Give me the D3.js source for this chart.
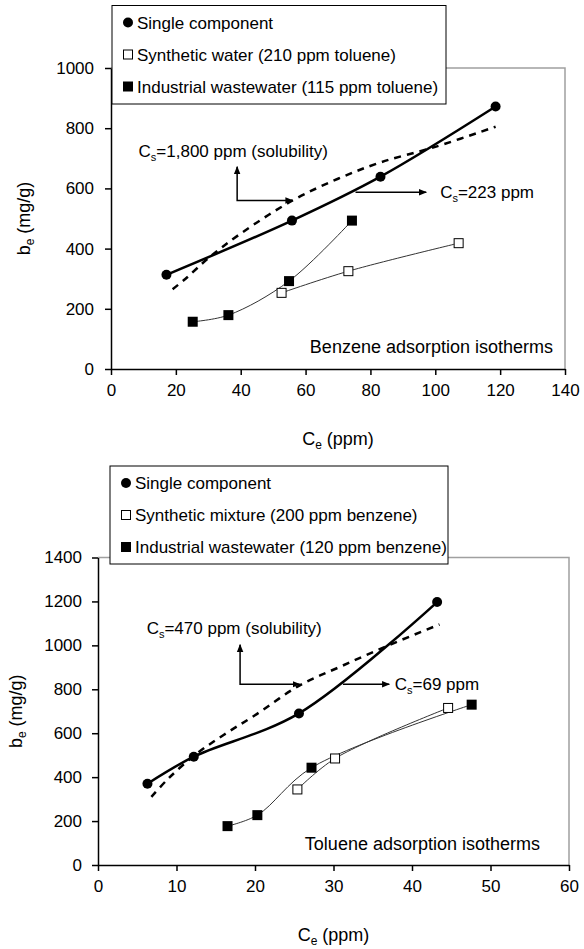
<!DOCTYPE html>
<html>
<head>
<meta charset="utf-8">
<script src="https://cdn.jsdelivr.net/npm/d3@7"></script>
<style>
  body { margin: 0; background: #fff; }
  text { font-family: "Liberation Sans", Arial, sans-serif; fill: #000; }
</style>
</head>
<body>
<script>
// ---- Benzene isotherms (top panel) ----
var benzSingle = [[17.1, 313], [55.8, 493], [83.1, 639], [118.6, 872]];
var benzSingleFit = [[19, 265], [23, 300], [30, 368], [40, 450], [56, 560], [70, 632], [83, 686], [100, 738], [118.6, 805]];
var benzSynthetic = [[52.6, 253], [73.2, 325], [107.2, 418]];
var benzIndustrial = [[25.2, 157], [36.2, 179], [54.9, 292], [74.3, 493]];
var benzXTicks = [0, 20, 40, 60, 80, 100, 120, 140];
var benzYTicks = [0, 200, 400, 600, 800, 1000];
var benzLegend = ["Single component", "Synthetic water (210 ppm toluene)", "Industrial wastewater (115 ppm toluene)"];

// ---- Toluene isotherms (bottom panel) ----
var tolSingle = [[6.3, 370], [12.2, 493], [25.6, 690], [43.2, 1197]];
var tolSingleFit = [[6.8, 310], [9, 395], [12.5, 505], [16, 592], [20, 682], [25.7, 818], [31, 905], [37, 1000], [43.5, 1095]];
var tolSynthetic = [[25.4, 344], [30.2, 485], [44.6, 715]];
var tolIndustrial = [[16.5, 177], [20.3, 227], [27.2, 443], [47.6, 730]];
var tolXTicks = [0, 10, 20, 30, 40, 50, 60];
var tolYTicks = [0, 200, 400, 600, 800, 1000, 1200, 1400];
var tolLegend = ["Single component", "Synthetic mixture (200 ppm benzene)", "Industrial wastewater (120 ppm benzene)"];

var W = 584, H = 949;
var svg = d3.select("body").append("svg").attr("width", W).attr("height", H);

var defs = svg.append("defs");
defs.append("marker")
  .attr("id", "arrow")
  .attr("viewBox", "0 0 10 10")
  .attr("refX", 9).attr("refY", 5)
  .attr("markerWidth", 8).attr("markerHeight", 8)
  .attr("markerUnits", "userSpaceOnUse")
  .attr("orient", "auto-start-reverse")
  .append("path").attr("d", "M0,1 L10,5 L0,9 Z").attr("fill", "#000");

function sub(sel, main, s, size) {
  sel.append("tspan").text(main);
  sel.append("tspan").attr("font-size", size).attr("dy", 4).text(s);
}

function drawPanel(p) {
  var x = d3.scaleLinear().domain(p.xDomain).range([p.left, p.right]);
  var y = d3.scaleLinear().domain(p.yDomain).range([p.bottom, p.top]);
  var g = svg.append("g");

  // grey frame on top/right
  g.append("path")
    .attr("d", "M" + p.left + "," + p.top + "H" + p.right + "V" + p.bottom)
    .attr("fill", "none").attr("stroke", "#a0a0a0").attr("stroke-width", 1.5);

  var line = d3.line().x(function(d) { return x(d[0]); }).y(function(d) { return y(d[1]); })
    .curve(d3.curveCatmullRom.alpha(0.5));

  // thin lines for mixture / wastewater
  [p.synthetic, p.industrial].forEach(function(s) {
    g.append("path").attr("d", line(s)).attr("fill", "none")
      .attr("stroke", "#333").attr("stroke-width", 1);
  });

  // model fit (dashed)
  g.append("path").attr("d", line(p.fit)).attr("fill", "none")
    .attr("stroke", "#000").attr("stroke-width", 2.5).attr("stroke-dasharray", "7,6");

  // single component (solid)
  g.append("path").attr("d", line(p.single)).attr("fill", "none")
    .attr("stroke", "#000").attr("stroke-width", 2.5);

  // annotations
  var a = p.elbow;
  g.append("path")
    .attr("d", "M" + x(a.x0) + "," + y(a.yTop) + "V" + y(a.y) + "H" + x(a.x1))
    .attr("fill", "none").attr("stroke", "#000").attr("stroke-width", 1.5)
    .attr("marker-start", "url(#arrow)").attr("marker-end", "url(#arrow)");
  var t1 = g.append("text").attr("x", x(a.tx)).attr("y", y(a.ty)).attr("font-size", 17);
  sub(t1, "C", "s", 11);
  t1.append("tspan").attr("dy", -4).text(a.label);

  var b = p.arrow;
  g.append("line")
    .attr("x1", x(b.x0)).attr("x2", x(b.x1)).attr("y1", y(b.y)).attr("y2", y(b.y))
    .attr("stroke", "#000").attr("stroke-width", 1.5).attr("marker-end", "url(#arrow)");
  var t2 = g.append("text").attr("x", x(b.tx)).attr("y", y(b.y) + 6).attr("font-size", 17);
  sub(t2, "C", "s", 11);
  t2.append("tspan").attr("dy", -4).text(b.label);

  // markers
  g.selectAll(".ind").data(p.industrial).enter().append("rect")
    .attr("x", function(d) { return x(d[0]) - 5; }).attr("y", function(d) { return y(d[1]) - 5; })
    .attr("width", 10).attr("height", 10).attr("fill", "#000");
  g.selectAll(".syn").data(p.synthetic).enter().append("rect")
    .attr("x", function(d) { return x(d[0]) - 4.5; }).attr("y", function(d) { return y(d[1]) - 4.5; })
    .attr("width", 9).attr("height", 9).attr("fill", "#fff").attr("stroke", "#000").attr("stroke-width", 1);
  g.selectAll(".sin").data(p.single).enter().append("circle")
    .attr("cx", function(d) { return x(d[0]); }).attr("cy", function(d) { return y(d[1]); })
    .attr("r", 5).attr("fill", "#000");

  // axes
  var fmt = d3.format("d");
  var xa = g.append("g").attr("transform", "translate(0," + p.bottom + ")")
    .call(d3.axisBottom(x).tickValues(p.xTicks).tickFormat(fmt).tickSize(6).tickSizeOuter(0).tickPadding(9));
  var ya = g.append("g").attr("transform", "translate(" + p.left + ",0)")
    .call(d3.axisLeft(y).tickValues(p.yTicks).tickFormat(fmt).tickSize(6).tickSizeOuter(0).tickPadding(p.yPad));
  [xa, ya].forEach(function(ax) {
    ax.select(".domain").attr("stroke", "#000").attr("stroke-width", 1.5);
    ax.selectAll(".tick line").attr("stroke", "#000").attr("stroke-width", 1.5);
    ax.selectAll(".tick text").attr("font-size", 17).attr("font-family", "Liberation Sans, Arial, sans-serif").attr("fill", "#000");
  });

  // axis titles
  var xt = g.append("text").attr("x", (p.left + p.right) / 2).attr("y", p.bottom + 76)
    .attr("text-anchor", "middle").attr("font-size", 18);
  sub(xt, "C", "e", 12);
  xt.append("tspan").attr("dy", -4).text(" (ppm)");
  var yt = g.append("text")
    .attr("transform", "translate(" + p.yTitleX + "," + ((p.top + p.bottom) / 2) + ") rotate(-90)")
    .attr("text-anchor", "middle").attr("font-size", 18);
  sub(yt, "b", "e", 12);
  yt.append("tspan").attr("dy", -4).text(" (mg/g)");

  // caption
  g.append("text").attr("x", p.captionX).attr("y", p.captionY)
    .attr("text-anchor", "end").attr("font-size", 18).text(p.caption);

  // legend
  var L = p.legend;
  g.append("rect").attr("x", L.x).attr("y", L.y).attr("width", L.w).attr("height", L.h)
    .attr("fill", "#fff").attr("stroke", "#000").attr("stroke-width", 1);
  L.names.forEach(function(name, i) {
    var cy = L.y + 17 + i * 32;
    var mx = L.x + 16;
    if (i === 0) g.append("circle").attr("cx", mx).attr("cy", cy).attr("r", 5).attr("fill", "#000");
    if (i === 1) g.append("rect").attr("x", mx - 4.5).attr("y", cy - 4.5).attr("width", 9).attr("height", 9)
      .attr("fill", "#fff").attr("stroke", "#000");
    if (i === 2) g.append("rect").attr("x", mx - 5).attr("y", cy - 5).attr("width", 10).attr("height", 10).attr("fill", "#000");
    g.append("text").attr("x", mx + 9).attr("y", cy + 6).attr("font-size", 17).text(name);
  });
}

drawPanel({
  left: 111, right: 565, top: 68, bottom: 369,
  xDomain: [0, 140], yDomain: [0, 1000],
  xTicks: benzXTicks, yTicks: benzYTicks, yPad: 11, yTitleX: 30,
  single: benzSingle, fit: benzSingleFit, synthetic: benzSynthetic, industrial: benzIndustrial,
  elbow: { x0: 38.9, x1: 56, y: 560, yTop: 672, tx: 8.5, ty: 705, label: "=1,800 ppm (solubility)" },
  arrow: { x0: 75.4, x1: 97.2, y: 587, tx: 101.5, label: "=223 ppm" },
  caption: "Benzene adsorption isotherms", captionX: 553, captionY: 353,
  legend: { x: 112, y: 5.5, w: 334, h: 98.5, names: benzLegend }
});

drawPanel({
  left: 98, right: 569, top: 557.5, bottom: 865,
  xDomain: [0, 60], yDomain: [0, 1400],
  xTicks: tolXTicks, yTicks: tolYTicks, yPad: 10, yTitleX: 22,
  single: tolSingle, fit: tolSingleFit, synthetic: tolSynthetic, industrial: tolIndustrial,
  elbow: { x0: 18.1, x1: 25.7, y: 823, yTop: 1003, tx: 6.2, ty: 1050, label: "=470 ppm (solubility)" },
  arrow: { x0: 31.2, x1: 37.1, y: 823, tx: 37.8, label: "=69 ppm" },
  caption: "Toluene adsorption isotherms", captionX: 540, captionY: 850,
  legend: { x: 110, y: 466, w: 338, h: 98, names: tolLegend }
});
</script>
</body>
</html>
